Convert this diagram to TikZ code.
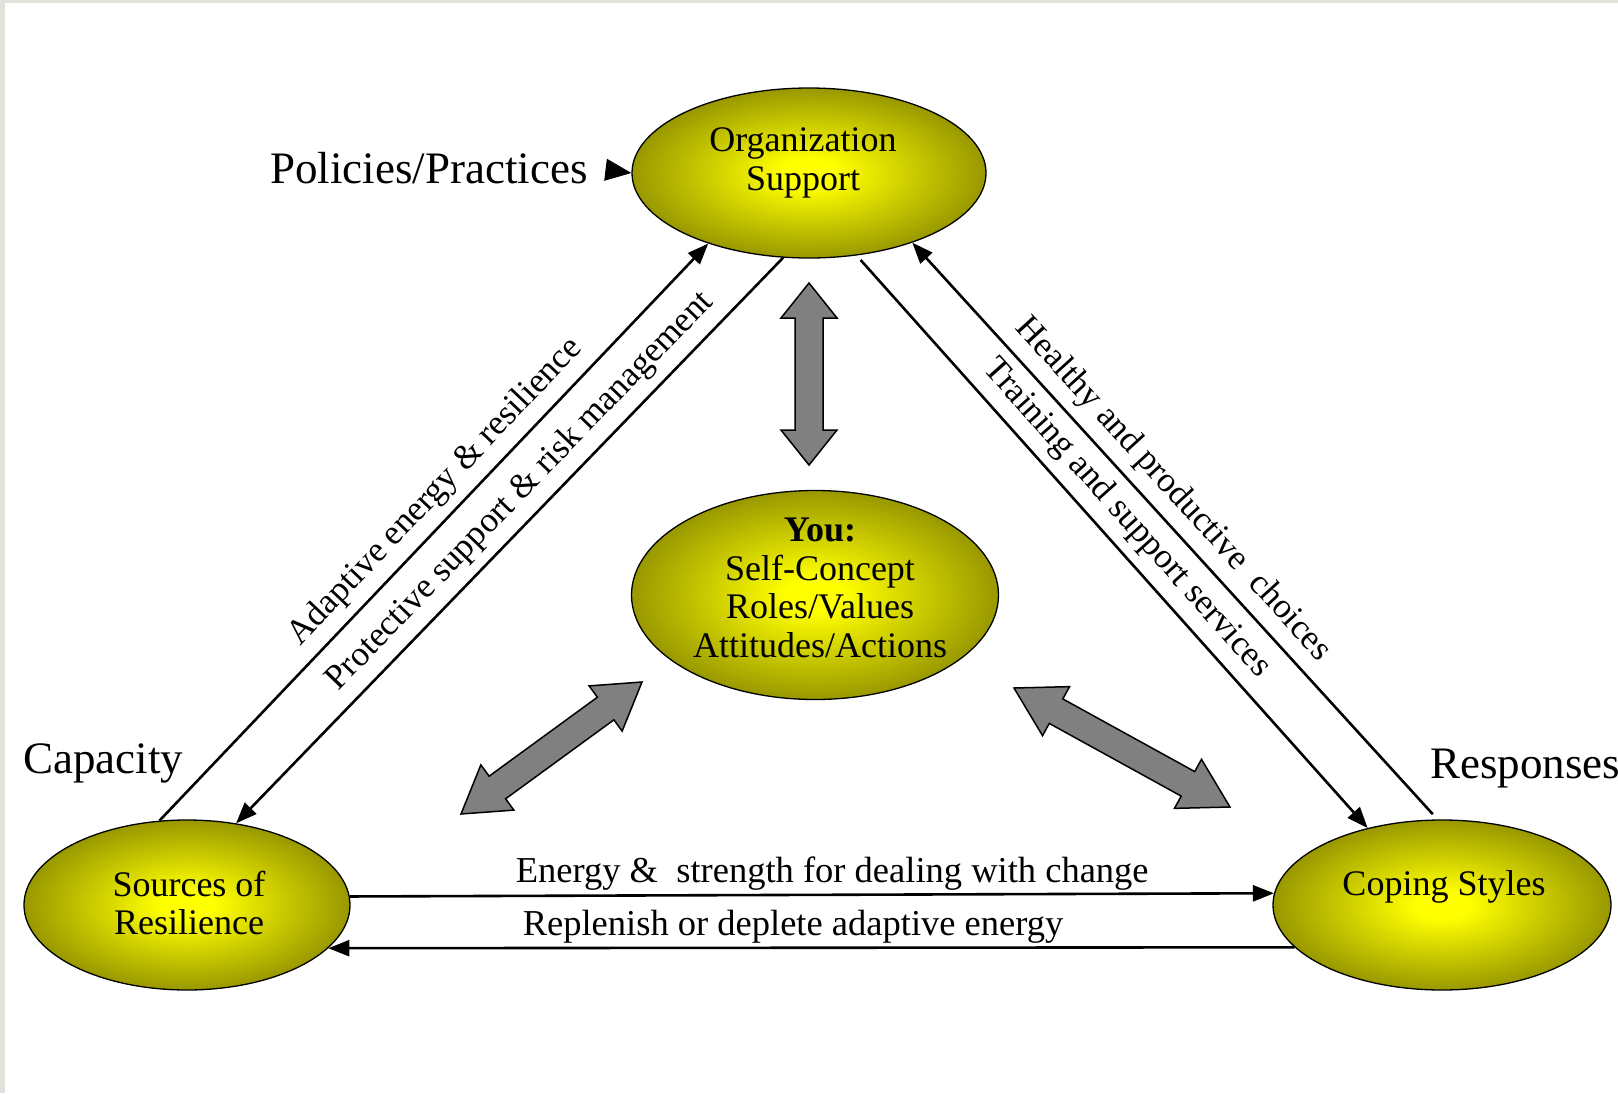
\documentclass[tikz,border=0pt]{standalone}
\usepackage{fontspec}
\setmainfont{Liberation Serif}
\usetikzlibrary{shapes.geometric,arrows.meta,calc}

\definecolor{blobdark}{RGB}{118,118,0}
\definecolor{blobbright}{RGB}{255,255,0}
\definecolor{fatgray}{RGB}{128,128,128}
\definecolor{edgegray}{RGB}{226,226,220}

\pgfdeclareradialshading{blobglow}{\pgfpoint{0bp}{0bp}}{%
  color(0bp)=(blobbright); color(4bp)=(blobbright);
  color(32bp)=(blobdark); color(50bp)=(blobdark)}

\tikzset{
  blob/.style={ellipse, draw=black, line width=1.3pt, shade, shading=blobglow, inner sep=0pt},
  blobtext/.style={font=\fontsize{36}{38.5}\selectfont, align=center, inner sep=0pt},
  side/.style={font=\fontsize{45}{50}\selectfont, inner sep=0pt},
  link/.style={line width=2.6pt, -{Triangle[length=21pt,width=16pt]}},
  linklabel/.style={font=\fontsize{35}{38.5}\selectfont, sloped, above, inner sep=9pt},
  flatlabel/.style={font=\fontsize{36.5}{38.5}\selectfont, above, inner sep=3pt},
  fatarrow/.style={draw=black, line width=1.5pt, fill=fatgray, line join=miter},
}

% grey two-headed block arrow from tip #1 to tip #2, head length #3
\newcommand{\twoway}[3]{%
  \filldraw[fatarrow] (#1)
    -- ($(#1)!#3!(#2)!28pt!90:(#2)$)
    -- ($(#1)!#3!(#2)!14pt!90:(#2)$)
    -- ($(#2)!#3!(#1)!14pt!-90:(#1)$)
    -- ($(#2)!#3!(#1)!28pt!-90:(#1)$)
    -- (#2)
    -- ($(#2)!#3!(#1)!28pt!90:(#1)$)
    -- ($(#2)!#3!(#1)!14pt!90:(#1)$)
    -- ($(#1)!#3!(#2)!14pt!-90:(#2)$)
    -- ($(#1)!#3!(#2)!28pt!-90:(#2)$)
    -- cycle;}

\begin{document}
\begin{tikzpicture}[x=1pt,y=-1pt]
  \useasboundingbox (0,0) rectangle (1618,1093);
  \fill[edgegray] (0,0) rectangle (5,1093);
  \fill[edgegray] (0,0) rectangle (1618,3);

  % the four ellipses
  \node[blob, minimum width=354pt, minimum height=170pt] (org) at (809,173) {};
  \node[blob, minimum width=326pt, minimum height=170pt] (src) at (187,905) {};
  \node[blob, minimum width=338pt, minimum height=170pt] (cop) at (1442,905) {};
  \node[blob, minimum width=367pt, minimum height=209pt] (you) at (815,595) {};

  \node[blobtext] (orgtxt) at (803,163) {Organization\\Support};
  \node[blobtext] (srctxt) at (189,903) {Sources of\\Resilience};
  \node[blobtext] (coptxt) at (1444,887) {Coping Styles};
  \node[blobtext] (youtxt) at (820,588) {\textbf{You:}\\Self-Concept\\Roles/Values\\Attitudes/Actions};

  % outside labels
  \node[side, anchor=base east] (pol) at (588,183) {Policies/Practices};
  \node[side, anchor=base west] (cap) at (23,773) {Capacity};
  \node[side, anchor=base west] (resp) at (1430,778) {Responses};
  \draw[line width=1pt, -{Triangle[length=26pt,width=22pt]}, shorten <=18pt] (pol.east) -- (org.west);

  % triangle sides
  \draw[link] (src.108.4) -- node[linklabel, pos=0.538] {Adaptive energy \& resilience} (org.-145.3);
  \draw[link] (org.-107.6) -- node[linklabel, pos=0.446] {Protective support \& risk management} (src.59.3);
  \draw[link, shorten <=6pt] (org.-60.7) -- node[linklabel, pos=0.49] {Training and support services} (cop.134.6);
  \draw[link, shorten <=7pt] (cop.93) -- node[linklabel, pos=0.541] {Healthy and productive \ choices} (org.-34.6);
  \draw[link] (src.3.2) -- node[flatlabel, pos=0.522] {Energy \& \ strength for dealing with change} (cop.176.8);
  \draw[link] (cop.196.4) -- node[flatlabel, pos=0.519] {Replenish or deplete adaptive energy} (src.-17);

  % block arrows round the centre
  \coordinate (vt) at (809,283);
  \coordinate (vb) at (809,465);
  \twoway{vt}{vb}{35pt}
  \coordinate (lt) at (642,682);
  \coordinate (lb) at (461,814);
  \twoway{lt}{lb}{45pt}
  \coordinate (rt) at (1014,688);
  \coordinate (rb) at (1230,807);
  \twoway{rt}{rb}{48pt}
\end{tikzpicture}
\end{document}
